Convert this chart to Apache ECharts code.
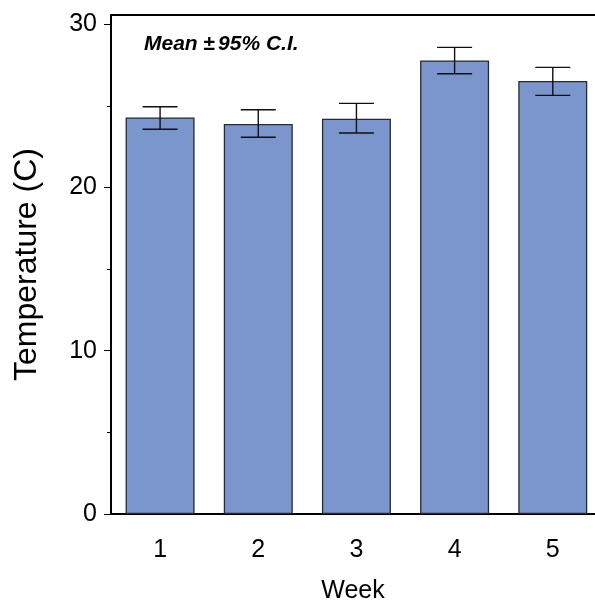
<!DOCTYPE html>
<html>
<head>
<meta charset="utf-8">
<script src="https://cdn.jsdelivr.net/npm/echarts@6/dist/echarts.min.js"></script>
<style>
html,body{margin:0;padding:0;background:#fff;}
#chart{width:595px;height:605px;}
</style>
</head>
<body>
<div id="chart"></div>
<script>
const weeks = [1, 2, 3, 4, 5];
const meanTemp = [24.29, 23.88, 24.21, 27.78, 26.52];
const ciUpper = [24.94, 24.76, 25.15, 28.58, 27.35];
const ciLower = [23.56, 23.07, 23.33, 26.96, 25.64];
const yMajorTicks = [0, 10, 20, 30];
const yMinorTicks = [0, 5, 10, 15, 20, 25, 30];

const FONT = '"Liberation Sans", Arial, sans-serif';
const chart = echarts.init(document.getElementById('chart'), null, {renderer: 'canvas'});

const barData = weeks.map((w, i) => [w, meanTemp[i]]);
const errData = weeks.map((w, i) => [w, ciLower[i], ciUpper[i]]);

const option = {
  animation: false,
  backgroundColor: '#ffffff',
  title: {
    left: 139, top: 29,
    text: '{b|Mean }{n|±}{b|95% C.I.}',
    textStyle: {
      rich: {
        b: {fontFamily: FONT, fontSize: 21, fontWeight: 'bold', fontStyle: 'italic', color: '#000'},
        n: {fontFamily: FONT, fontSize: 21, color: '#000', padding: [0, 3, 0, 0]}
      }
    }
  },
  grid: {left: 111, top: 15, right: 0, bottom: 91, containLabel: false, outerBoundsMode: 'none'},
  xAxis: [
    {
      type: 'value', min: 0.5, max: 5.43, position: 'bottom',
      name: 'Week', nameLocation: 'middle', nameGap: 65,
      nameTextStyle: {fontFamily: FONT, fontSize: 25, color: '#000'},
      axisLine: {show: true, onZero: false, lineStyle: {color: '#000', width: 2}},
      axisTick: {show: false},
      splitLine: {show: false},
      axisLabel: {customValues: weeks, fontFamily: FONT, fontSize: 25, color: '#000', margin: 24}
    },
    {
      type: 'value', min: 0.5, max: 5.43, position: 'top',
      axisLine: {show: true, onZero: false, lineStyle: {color: '#000', width: 2}},
      axisTick: {show: false}, axisLabel: {show: false}, splitLine: {show: false}
    }
  ],
  yAxis: [
    {
      type: 'value', min: 0, max: 30.56, position: 'left',
      name: 'Temperature (C)', nameLocation: 'middle', nameGap: 68,
      nameTextStyle: {fontFamily: FONT, fontSize: 32, color: '#000'},
      axisLine: {show: true, onZero: false, lineStyle: {color: '#000', width: 2}},
      axisTick: {show: true, customValues: yMajorTicks, length: 7, lineStyle: {color: '#000', width: 1}},
      axisLabel: {customValues: yMajorTicks, fontFamily: FONT, fontSize: 25, color: '#000', margin: 14},
      splitLine: {show: false}
    },
    {
      type: 'value', min: 0, max: 30.56, position: 'left',
      axisLine: {show: false},
      axisTick: {show: true, customValues: yMinorTicks, length: 4, lineStyle: {color: '#000', width: 1}},
      axisLabel: {show: false},
      splitLine: {show: false}
    }
  ],
  series: [
    {
      type: 'bar',
      data: barData,
      barWidth: 69,
      itemStyle: {color: '#7b96cc', borderColor: '#262a33', borderWidth: 1.3},
      z: 2
    },
    {
      type: 'custom',
      data: errData,
      z: 3,
      renderItem: function (params, api) {
        const x = api.value(0);
        const lo = api.coord([x, api.value(1)]);
        const hi = api.coord([x, api.value(2)]);
        const half = 17.5;
        const style = {stroke: '#111', lineWidth: 1.4};
        return {
          type: 'group',
          children: [
            {type: 'line', shape: {x1: lo[0], y1: lo[1], x2: hi[0], y2: hi[1]}, style: style},
            {type: 'line', shape: {x1: hi[0] - half, y1: hi[1], x2: hi[0] + half, y2: hi[1]}, style: style},
            {type: 'line', shape: {x1: lo[0] - half, y1: lo[1], x2: lo[0] + half, y2: lo[1]}, style: style}
          ]
        };
      }
    }
  ]
};
chart.setOption(option);
</script>
</body>
</html>
